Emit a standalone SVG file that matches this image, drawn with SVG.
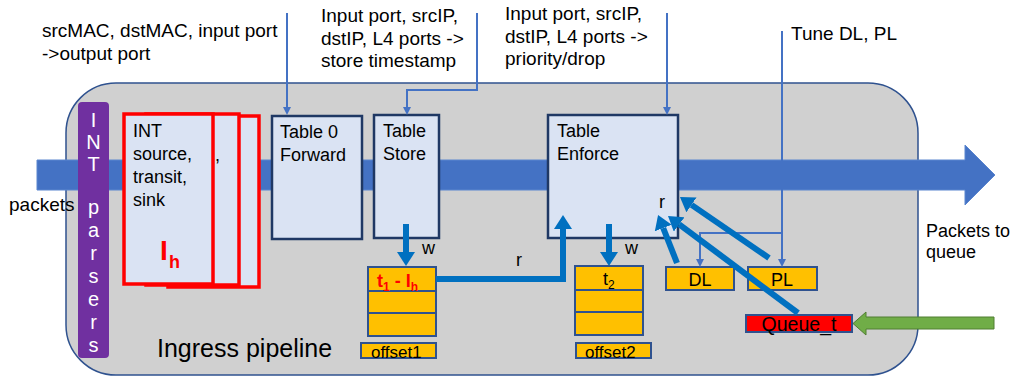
<svg xmlns="http://www.w3.org/2000/svg" width="1014" height="376" viewBox="0 0 1014 376">
<style>
text{font-family:"Liberation Sans",Arial,sans-serif;fill:#000}
.t18{font-size:18px}
.t19{font-size:19px}
.tbl{fill:#DAE3F3;stroke:#1F3864;stroke-width:2.5}
.intb{fill:#DAE3F3;stroke:#FF0000;stroke-width:3.5}
.reg{fill:#FFC000;stroke:#2F528F;stroke-width:2}
.thin{fill:none;stroke:#4472C4;stroke-width:2}
.thick{fill:none;stroke:#0070C0;stroke-width:6}
.par{fill:#fff;font-size:20px;text-anchor:middle}
.red{fill:#FF0000;font-weight:bold}
</style>
<defs>
<marker id="ah" viewBox="0 0 8 8" refX="0" refY="4" markerWidth="8" markerHeight="8" markerUnits="userSpaceOnUse" orient="auto"><path d="M0,0 L8,4 L0,8 z" fill="#4472C4"/></marker>
<marker id="ahk" viewBox="0 0 14 18" refX="0" refY="9" markerWidth="14" markerHeight="18" markerUnits="userSpaceOnUse" orient="auto"><path d="M0,0 L14,9 L0,18 z" fill="#0070C0"/></marker>
</defs>

<g id="pipeline">
<rect x="66" y="83" width="852" height="292" rx="50" ry="50" fill="#D0D0D0" stroke="#2F528F" stroke-width="1.5"/>
<text x="157" y="357" font-size="25">Ingress pipeline</text>
</g>

<g id="packet-flow">
<path d="M37,160 H965 V145 L995,175 L965,205 V190 H37 z" fill="#4472C4" stroke="#5B86CF" stroke-width="1"/>
<text x="9" y="211" class="t19">packets</text>
<text x="926" y="237" class="t18">Packets to</text>
<text x="926" y="258" class="t18">queue</text>
</g>

<g id="int-parsers">
<rect x="78" y="102" width="31" height="256" rx="4" fill="#7030A0"/>
<text class="par" x="93.5" y="127">I</text>
<text class="par" x="93.5" y="149">N</text>
<text class="par" x="93.5" y="171">T</text>
<text class="par" x="93.5" y="214">p</text>
<text class="par" x="93.5" y="237">a</text>
<text class="par" x="93.5" y="260">r</text>
<text class="par" x="93.5" y="283">s</text>
<text class="par" x="93.5" y="306">e</text>
<text class="par" x="93.5" y="329">r</text>
<text class="par" x="93.5" y="352">s</text>
</g>

<g id="int-block">
<rect class="intb" x="168" y="116" width="91" height="171"/>
<rect class="intb" x="146" y="114" width="93" height="171"/>
<text x="215" y="161" class="t18">,</text>
<rect class="intb" x="124" y="114" width="89" height="170"/>
<text x="133" y="137" class="t18">INT</text>
<text x="133" y="160" class="t18">source,</text>
<text x="133" y="183" class="t18">transit,</text>
<text x="133" y="206" class="t18">sink</text>
<text x="160" y="260" class="red" font-size="28">I</text>
<text x="169" y="268" class="red" font-size="18">h</text>
</g>

<g id="table0">
<rect class="tbl" x="272" y="116" width="90" height="123"/>
<text x="280" y="138" class="t18">Table 0</text>
<text x="280" y="161" class="t18">Forward</text>
</g>

<g id="table-store">
<rect class="tbl" x="374" y="115" width="65" height="123"/>
<text x="383" y="137" class="t18">Table</text>
<text x="383" y="160" class="t18">Store</text>
</g>

<g id="table-enforce">
<rect class="tbl" x="548" y="115" width="130" height="123"/>
<text x="557" y="137" class="t18">Table</text>
<text x="557" y="160" class="t18">Enforce</text>
<text x="659" y="208" class="t18">r</text>
</g>

<g id="reg1">
<rect class="reg" x="368" y="267" width="68" height="24"/>
<rect class="reg" x="368" y="291" width="68" height="22"/>
<rect class="reg" x="368" y="313" width="68" height="23"/>
<text x="377" y="287" class="red" font-size="18">t<tspan font-size="12" dy="4">1</tspan><tspan dy="-4"> - I</tspan><tspan font-size="12" dy="4">h</tspan></text>
</g>
<g id="offset1">
<rect class="reg" x="361" y="343" width="75" height="15"/>
<text x="371" y="358" font-size="17">offset1</text>
</g>

<g id="reg2">
<rect class="reg" x="575" y="266" width="68" height="24"/>
<rect class="reg" x="575" y="290" width="68" height="22"/>
<rect class="reg" x="575" y="312" width="68" height="23"/>
<text x="603" y="285" class="t18">t<tspan font-size="12" dy="4">2</tspan></text>
</g>
<g id="offset2">
<rect class="reg" x="576" y="343" width="75" height="15"/>
<text x="585" y="358" font-size="17">offset2</text>
</g>

<g id="dl">
<rect class="reg" x="666" y="267" width="68" height="23"/>
<text x="700" y="286" class="t18" text-anchor="middle">DL</text>
</g>
<g id="pl">
<rect class="reg" x="748" y="267" width="69" height="23"/>
<text x="782" y="286" class="t18" text-anchor="middle">PL</text>
</g>
<g id="queue-t">
<rect x="746" y="315" width="106" height="17" fill="#FF0000" stroke="#2F528F" stroke-width="2"/>
<text x="799" y="331" font-size="19.5" text-anchor="middle">Queue_t</text>
</g>

<g id="queue-feed">
<path d="M994,317 H866 V312 L853,323.5 L866,335 V329 H994 z" fill="#70AD47" stroke="#507E32" stroke-width="1"/>
</g>

<g id="labels">
<text x="42" y="37" class="t19">srcMAC, dstMAC, input port</text>
<text x="42" y="60" class="t19">-&gt;output port</text>
<text x="321" y="22" class="t19">Input port, srcIP,</text>
<text x="321" y="45" class="t19">dstIP, L4 ports -&gt;</text>
<text x="321" y="67" class="t19">store timestamp</text>
<text x="505" y="20" class="t19">Input port, srcIP,</text>
<text x="505" y="43" class="t19">dstIP, L4 ports -&gt;</text>
<text x="505" y="65" class="t19">priority/drop</text>
<text x="791" y="40" class="t19">Tune DL, PL</text>
<text x="422" y="254" class="t18">w</text>
<text x="625" y="254" class="t18">w</text>
<text x="516" y="266" class="t18">r</text>
</g>

<g id="connectors">
<path class="thin" d="M287,13 V107" marker-end="url(#ah)"/>
<path class="thin" d="M477,13 V90 H407 V107" marker-end="url(#ah)"/>
<path class="thin" d="M667,13 V107" marker-end="url(#ah)"/>
<path class="thin" d="M782,31 V259" marker-end="url(#ah)"/>
<path class="thin" d="M782,233 H700 V259" marker-end="url(#ah)"/>
<path class="thick" d="M406,224 V252" marker-end="url(#ahk)"/>
<path class="thick" d="M609,224 V252" marker-end="url(#ahk)"/>
<path class="thick" d="M436,279 H563 V229" marker-end="url(#ahk)"/>
<path class="thick" d="M677,263 L663.2,228" marker-end="url(#ahk)"/>
<path class="thick" d="M769,258 L691.5,204.9" marker-end="url(#ahk)"/>
<path class="thick" d="M798,313 L679.2,224.4" marker-end="url(#ahk)"/>
</g>
</svg>
